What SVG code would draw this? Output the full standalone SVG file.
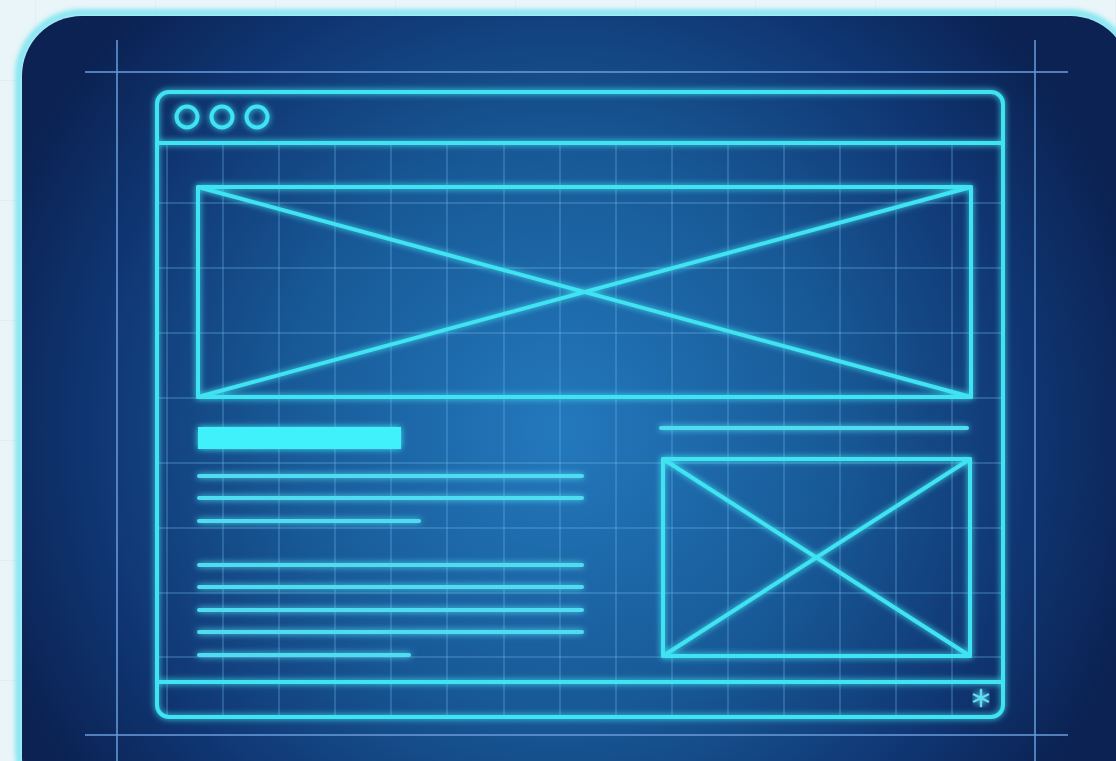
<svg xmlns="http://www.w3.org/2000/svg" width="1116" height="761" viewBox="0 0 1116 761">
<defs>
<radialGradient id="pg" cx="560" cy="430" r="600" gradientUnits="userSpaceOnUse">
<stop offset="0" stop-color="#2379bd"/>
<stop offset="0.45" stop-color="#185a98"/>
<stop offset="0.8" stop-color="#0f3470"/>
<stop offset="1" stop-color="#0b2252"/>
</radialGradient>
<filter id="glow" x="-10%" y="-10%" width="120%" height="120%">
<feGaussianBlur in="SourceGraphic" stdDeviation="3" result="b"/>
<feMerge><feMergeNode in="b"/><feMergeNode in="SourceGraphic"/></feMerge>
</filter>
<filter id="soft" x="-5%" y="-5%" width="110%" height="110%">
<feGaussianBlur stdDeviation="2"/>
</filter>
<pattern id="bggrid" width="120" height="120" patternUnits="userSpaceOnUse" x="35" y="-40">
<path d="M0 0V120M0 0H120" fill="none" stroke="#d6eaf1" stroke-width="1"/>
</pattern>
</defs>
<style>
.neon{fill:none;stroke:#3fe3f2;stroke-width:4;stroke-linecap:round;stroke-linejoin:round}
.txt{fill:none;stroke:#4fdcf0;stroke-width:4;stroke-linecap:round}
.grid{stroke:#6fb8e4;stroke-opacity:0.38;stroke-width:1.5}
.guide{stroke:#6496d6;stroke-opacity:0.8;stroke-width:2}
</style>
<rect width="1116" height="761" fill="#e9f5f8"/>
<rect width="1116" height="761" fill="url(#bggrid)"/>
<g id="panel">
<rect x="19" y="13" width="1113" height="800" rx="63" fill="none" stroke="#8ae7f3" stroke-width="8" filter="url(#soft)"/>
<rect x="22" y="16" width="1108" height="800" rx="60" fill="url(#pg)"/>
</g>
<g id="guides">
<line class="guide" x1="85" y1="72" x2="1068" y2="72"/>
<line class="guide" x1="85" y1="735" x2="1068" y2="735"/>
<line class="guide" x1="117" y1="40" x2="117" y2="761"/>
<line class="guide" x1="1035" y1="40" x2="1035" y2="761"/>
</g>
<g id="grid">
<line class="grid" x1="167" y1="145" x2="167" y2="715"/>
<line class="grid" x1="223" y1="145" x2="223" y2="715"/>
<line class="grid" x1="279" y1="145" x2="279" y2="715"/>
<line class="grid" x1="335" y1="145" x2="335" y2="715"/>
<line class="grid" x1="391" y1="145" x2="391" y2="715"/>
<line class="grid" x1="447" y1="145" x2="447" y2="715"/>
<line class="grid" x1="504" y1="145" x2="504" y2="715"/>
<line class="grid" x1="560" y1="145" x2="560" y2="715"/>
<line class="grid" x1="616" y1="145" x2="616" y2="715"/>
<line class="grid" x1="672" y1="145" x2="672" y2="715"/>
<line class="grid" x1="728" y1="145" x2="728" y2="715"/>
<line class="grid" x1="784" y1="145" x2="784" y2="715"/>
<line class="grid" x1="840" y1="145" x2="840" y2="715"/>
<line class="grid" x1="896" y1="145" x2="896" y2="715"/>
<line class="grid" x1="952" y1="145" x2="952" y2="715"/>
<line class="grid" x1="159" y1="203" x2="1001" y2="203"/>
<line class="grid" x1="159" y1="268" x2="1001" y2="268"/>
<line class="grid" x1="159" y1="333" x2="1001" y2="333"/>
<line class="grid" x1="159" y1="398" x2="1001" y2="398"/>
<line class="grid" x1="159" y1="463" x2="1001" y2="463"/>
<line class="grid" x1="159" y1="528" x2="1001" y2="528"/>
<line class="grid" x1="159" y1="593" x2="1001" y2="593"/>
<line class="grid" x1="159" y1="657" x2="1001" y2="657"/>
</g>
<g id="browser" filter="url(#glow)">
<rect class="neon" x="157" y="92" width="846" height="625" rx="12"/>
<line class="neon" x1="157" y1="143" x2="1003" y2="143"/>
<line class="neon" x1="157" y1="682" x2="1003" y2="682"/>
<circle class="neon" cx="187" cy="117" r="10.5" stroke-width="3.5"/>
<circle class="neon" cx="222" cy="117" r="10.5" stroke-width="3.5"/>
<circle class="neon" cx="257" cy="117" r="10.5" stroke-width="3.5"/>
</g>
<g id="hero" filter="url(#glow)">
<rect class="neon" x="198" y="187" width="773" height="210"/>
<line class="neon" x1="198" y1="187" x2="971" y2="397"/>
<line class="neon" x1="971" y1="187" x2="198" y2="397"/>
</g>
<g id="textblock" filter="url(#glow)">
<rect x="198" y="427" width="203" height="22" fill="#40f0fa"/>
<line class="txt" x1="199" y1="476" x2="582" y2="476"/>
<line class="txt" x1="199" y1="498" x2="582" y2="498"/>
<line class="txt" x1="199" y1="521" x2="419" y2="521"/>
<line class="txt" x1="199" y1="565" x2="582" y2="565"/>
<line class="txt" x1="199" y1="587" x2="582" y2="587"/>
<line class="txt" x1="199" y1="610" x2="582" y2="610"/>
<line class="txt" x1="199" y1="632" x2="582" y2="632"/>
<line class="txt" x1="199" y1="655" x2="409" y2="655"/>
</g>
<g id="sidebar" filter="url(#glow)">
<line class="txt" x1="661" y1="428" x2="967" y2="428" stroke-width="3.5"/>
<rect class="neon" x="663" y="459" width="307" height="197"/>
<line class="neon" x1="663" y1="459" x2="970" y2="656"/>
<line class="neon" x1="970" y1="459" x2="663" y2="656"/>
</g>
<g id="footer-icon" filter="url(#glow)">
<path d="M981 690V706M974 694.5L988 701.5M988 694.5L974 701.5" fill="none" stroke="#5fdcf0" stroke-width="2.5" stroke-linecap="round"/>
</g>
</svg>
